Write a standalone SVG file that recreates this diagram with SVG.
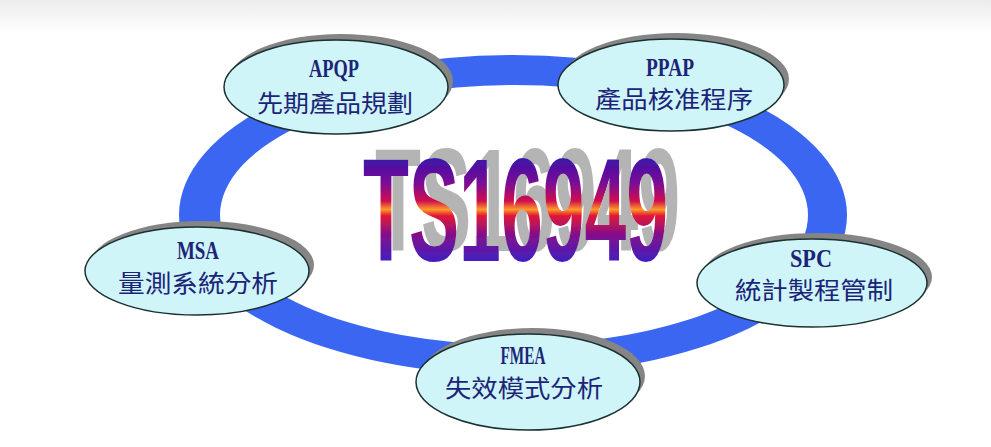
<svg xmlns="http://www.w3.org/2000/svg" width="991" height="447" viewBox="0 0 991 447">
<defs>
<linearGradient id="bg" x1="0" y1="0" x2="0" y2="1">
<stop offset="0" stop-color="#ececec"/>
<stop offset="1" stop-color="#ffffff"/>
</linearGradient>
<linearGradient id="ts" x1="0" y1="-104" x2="0" y2="1" gradientUnits="userSpaceOnUse">
<stop offset="0" stop-color="#3a14a8"/>
<stop offset="0.25" stop-color="#7a0c96"/>
<stop offset="0.42" stop-color="#d0104e"/>
<stop offset="0.5" stop-color="#ff9a28"/>
<stop offset="0.56" stop-color="#e01438"/>
<stop offset="0.75" stop-color="#80108e"/>
<stop offset="1" stop-color="#4020c0"/>
</linearGradient>
<filter id="tshadow" x="-10%" y="-20%" width="120%" height="140%">
<feOffset in="SourceAlpha" dx="12" dy="-10" result="off"/>
<feFlood flood-color="#b4b4b4"/>
<feComposite in2="off" operator="in" result="sh"/>
<feMerge><feMergeNode in="sh"/><feMergeNode in="SourceGraphic"/></feMerge>
</filter>
<style>
.sh{fill:#858585;}
.nd{fill:#cff5f8;stroke:#1c3030;stroke-width:1.5;}
.en{font-family:"Liberation Serif","Times New Roman",serif;font-weight:bold;font-size:25px;fill:#1c2478;text-anchor:middle;}
.zh{font-family:"Noto Sans CJK TC","Noto Sans CJK SC",sans-serif;font-size:24px;fill:#1c2478;text-anchor:middle;}
.big{font-family:"Liberation Sans",Arial,sans-serif;font-weight:bold;font-size:146px;}
</style>
</defs>
<rect x="0" y="0" width="991" height="447" fill="#ffffff"/>
<rect x="0" y="0" width="991" height="32" fill="url(#bg)"/>
<g id="connectors">
<path d="M179,215 a334,160 0 1,0 668,0 a334,160 0 1,0 -668,0 Z M220,215 a294,130 0 1,0 588,0 a294,130 0 1,0 -588,0 Z" fill="#3a66f2" fill-rule="evenodd"/>
</g>
<g id="title" filter="url(#tshadow)">
<text class="big" transform="translate(363,261) scale(0.515,1)" x="0" y="0" fill="url(#ts)">TS16949</text>
</g>
<g id="apqp">
<ellipse class="sh" cx="341" cy="81" rx="112" ry="47"/>
<ellipse class="nd" cx="336" cy="87" rx="112" ry="47"/>
<text class="en" x="334" y="77" textLength="50" lengthAdjust="spacingAndGlyphs">APQP</text>
<text class="zh" x="335" y="112" textLength="156" lengthAdjust="spacingAndGlyphs">先期產品規劃</text>
</g>
<g id="ppap">
<ellipse class="sh" cx="676" cy="79" rx="113" ry="46"/>
<ellipse class="nd" cx="671" cy="85" rx="113" ry="46"/>
<text class="en" x="670" y="76" textLength="48" lengthAdjust="spacingAndGlyphs">PPAP</text>
<text class="zh" x="674" y="108" textLength="158" lengthAdjust="spacingAndGlyphs">產品核准程序</text>
</g>
<g id="msa">
<ellipse class="sh" cx="202" cy="265" rx="112" ry="44"/>
<ellipse class="nd" cx="197" cy="271" rx="112" ry="44"/>
<text class="en" x="198" y="259" textLength="42" lengthAdjust="spacingAndGlyphs">MSA</text>
<text class="zh" x="198" y="292" textLength="160" lengthAdjust="spacingAndGlyphs">量測系統分析</text>
</g>
<g id="spc">
<ellipse class="sh" cx="817" cy="277" rx="115" ry="44"/>
<ellipse class="nd" cx="812" cy="283" rx="115" ry="44"/>
<text class="en" x="811" y="267" textLength="42" lengthAdjust="spacingAndGlyphs">SPC</text>
<text class="zh" x="814" y="299" textLength="158" lengthAdjust="spacingAndGlyphs">統計製程管制</text>
</g>
<g id="fmea">
<ellipse class="sh" cx="533" cy="376" rx="112" ry="48"/>
<ellipse class="nd" cx="528" cy="382" rx="112" ry="48"/>
<text class="en" x="523" y="364" textLength="45" lengthAdjust="spacingAndGlyphs">FMEA</text>
<text class="zh" x="524" y="397" textLength="158" lengthAdjust="spacingAndGlyphs">失效模式分析</text>
</g>
</svg>
